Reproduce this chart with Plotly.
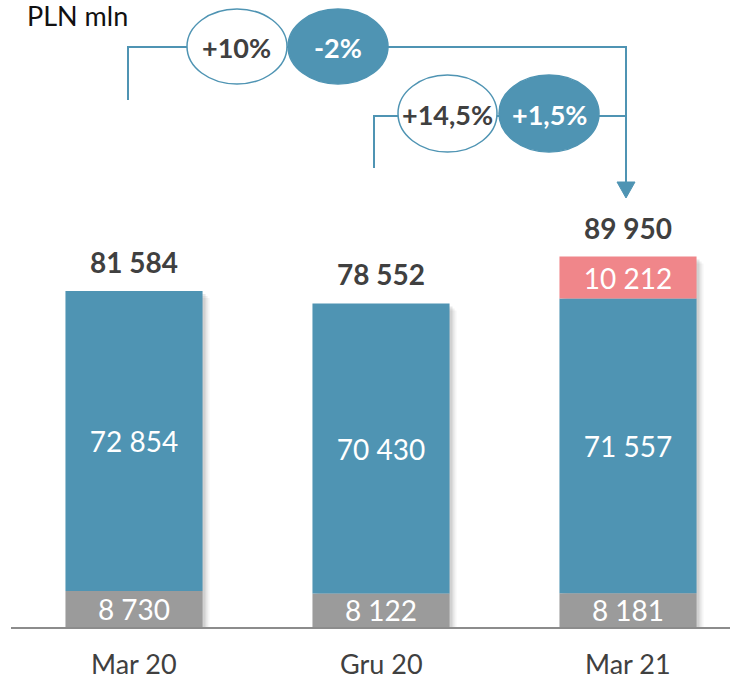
import plotly.graph_objects as go

# ---- data ----
categories = ["Mar 20", "Gru 20", "Mar 21"]
gray_vals = [8730, 8122, 8181]
blue_vals = [72854, 70430, 71557]
pink_vals = [None, None, 10212]
totals = [81584, 78552, 89950]
change_labels_top = ["+10%", "-2%"]
change_labels_mid = ["+14,5%", "+1,5%"]
unit_label = "PLN mln"

BLUE = "#4F94B3"
GRAY = "#9B9B9B"
PINK = "#F0868A"
DARK = "#404040"
FONT = "Lato"

W, H = 730, 681
PLOT_L, BASE = 11, 627
ML, MR, MT = PLOT_L, 0, 0
MB = H - BASE
PW, PH = W - ML - MR, H - MT - MB
YMAX = PH * 81584 / 336.0
BAR_W = 0.555
XMIN = -0.498
XMAX = XMIN + PW / 247.0


def fmt(v):
    return f"{v:,}".replace(",", " ")


def X(px):
    return (px - PLOT_L) / PW


def Y(py):
    return (BASE - py) / PH


fig = go.Figure()

# soft drop shadow (behind the bars)
px_unit = (XMAX - XMIN) / PW
py_unit = YMAX / PH
for shift, alpha in [(7, 0.04), (5, 0.06), (3, 0.09)]:
    fig.add_trace(go.Bar(
        x=categories, y=[t - shift * py_unit for t in totals], base=0,
        width=BAR_W, offset=-BAR_W / 2 + shift * px_unit,
        marker=dict(color=f"rgba(0,0,0,{alpha})", line=dict(width=0)),
        hoverinfo="skip", showlegend=False))

base_blue = gray_vals
base_pink = [g + b for g, b in zip(gray_vals, blue_vals)]

for vals, base, color in [(gray_vals, 0, GRAY), (blue_vals, base_blue, BLUE),
                          (pink_vals, base_pink, PINK)]:
    fig.add_trace(go.Bar(
        x=categories, y=vals, base=base, width=BAR_W,
        marker=dict(color=color, line=dict(width=0)),
        text=[fmt(v) if v is not None else "" for v in vals],
        textposition="inside", insidetextanchor="middle", textangle=0,
        textfont=dict(family=FONT, size=28, color="white"),
        showlegend=False, hoverinfo="skip"))

# totals above bars
for c, t in zip(categories, totals):
    fig.add_annotation(x=c, y=t, text=f"<b>{fmt(t)}</b>", showarrow=False,
                       yanchor="bottom", yshift=10,
                       font=dict(family=FONT, size=28, color=DARK))

# category labels under the axis
for c in categories:
    fig.add_annotation(x=c, xref="x", yref="paper", y=Y(664), text=c,
                       showarrow=False, yanchor="middle",
                       font=dict(family=FONT, size=27, color=DARK))

shapes = []
line = dict(color=BLUE, width=2)
shapes.append(dict(type="path", xref="paper", yref="paper",
                   path=f"M {X(128)},{Y(100)} L {X(128)},{Y(47)} L {X(626)},{Y(47)} L {X(626)},{Y(184)}",
                   line=line))
shapes.append(dict(type="path", xref="paper", yref="paper",
                   path=f"M {X(374)},{Y(168)} L {X(374)},{Y(116)} L {X(626)},{Y(116)}",
                   line=line))
shapes.append(dict(type="path", xref="paper", yref="paper",
                   path=f"M {X(617)},{Y(182)} L {X(635)},{Y(182)} L {X(626)},{Y(198)} Z",
                   fillcolor=BLUE, line=dict(color=BLUE, width=1)))
ell = [
    (187, 9, 287, 84, False, change_labels_top[0]),
    (288, 9, 388, 84, True, change_labels_top[1]),
    (398, 75, 497, 152, False, change_labels_mid[0]),
    (499, 75, 599, 152, True, change_labels_mid[1]),
]
for x0, y0, x1, y1, filled, label in ell:
    shapes.append(dict(type="circle", xref="paper", yref="paper",
                       x0=X(x0), x1=X(x1), y0=Y(y1), y1=Y(y0),
                       fillcolor=BLUE if filled else "white",
                       line=dict(color=BLUE, width=1.5)))
    fig.add_annotation(xref="paper", yref="paper", x=X((x0 + x1) / 2),
                       y=Y((y0 + y1) / 2 + 1), text=f"<b>{label}</b>",
                       showarrow=False, xanchor="center", yanchor="middle",
                       font=dict(family=FONT, size=27,
                                 color="white" if filled else DARK))

fig.add_annotation(xref="paper", yref="paper", x=X(25), y=1, yshift=3,
                   text=unit_label, showarrow=False, xanchor="left",
                   yanchor="top", font=dict(family=FONT, size=27, color="#111111"))

fig.update_layout(
    width=W, height=H, margin=dict(l=ML, r=MR, t=MT, b=MB),
    barmode="overlay", paper_bgcolor="white", plot_bgcolor="white",
    shapes=shapes,
    uniformtext=dict(minsize=28, mode="show"),
    xaxis=dict(range=[XMIN, XMAX], showline=True, linecolor="#8C8C8C",
               linewidth=2, ticks="", showgrid=False, zeroline=False,
               showticklabels=False),
    yaxis=dict(range=[0, YMAX], visible=False, showgrid=False, zeroline=False),
)

fig.write_html("out.html", config={"displayModeBar": False},
               post_script="document.body.style.margin='0';")
